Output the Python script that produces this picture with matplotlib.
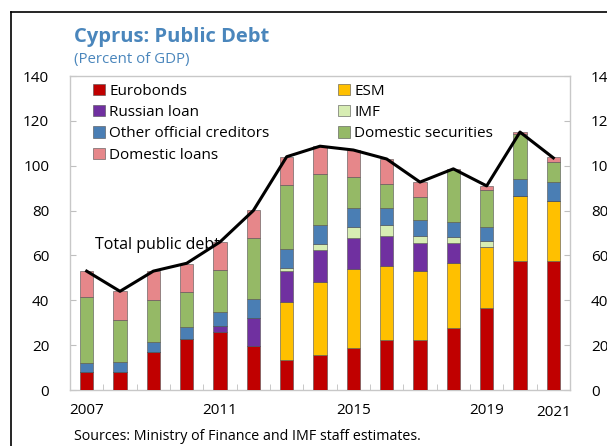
import matplotlib
matplotlib.use("Agg")
import matplotlib.pyplot as plt
from matplotlib.lines import Line2D
import numpy as np

plt.rcParams['font.family'] = ['Open Sans', 'DejaVu Sans']

years = [2007, 2008, 2009, 2010, 2011, 2012, 2013, 2014, 2015, 2016, 2017, 2018, 2019, 2020, 2021]
year_labels = ['2007', '2011', '2015', '2019', '2021']

# stacked components, percent of GDP (bottom to top)
eurobonds   = [8.0, 8.0, 16.8, 22.7, 26.0, 19.6, 13.5, 15.5, 18.7, 22.2, 22.2, 27.8, 36.4, 57.5, 57.5]
esm         = [0, 0, 0, 0, 0, 0, 25.6, 32.5, 35.1, 33.1, 30.9, 28.8, 27.2, 29.0, 26.8]
russian     = [0, 0, 0, 0, 2.7, 12.7, 14.0, 14.3, 14.1, 13.2, 12.4, 8.9, 0, 0, 0]
imf         = [0, 0, 0, 0, 0, 0, 1.2, 2.7, 4.9, 5.2, 3.2, 2.9, 2.8, 0, 0]
other_off   = [3.9, 4.3, 4.5, 5.4, 6.2, 8.3, 8.6, 8.6, 8.2, 7.3, 7.3, 6.6, 6.4, 7.5, 8.4]
dom_sec     = [29.6, 18.8, 18.7, 15.4, 18.8, 27.3, 28.5, 22.7, 14.0, 11.0, 10.0, 23.3, 16.5, 20.2, 8.8]
dom_loans   = [11.6, 13.0, 12.9, 12.8, 12.1, 12.2, 12.5, 12.4, 12.0, 11.0, 6.7, 0.3, 1.5, 1.0, 2.2]
total_debt  = [53.0, 44.0, 53.0, 56.5, 66.0, 80.0, 104.0, 108.7, 107.0, 103.0, 92.7, 98.6, 91.0, 115.0, 103.5]

series = [
    ("Eurobonds", eurobonds, '#C00000'),
    ("ESM", esm, '#FFC000'),
    ("Russian loan", russian, '#7030A0'),
    ("IMF", imf, '#D7EDB3'),
    ("Other official creditors", other_off, '#4A7EB4'),
    ("Domestic securities", dom_sec, '#95B966'),
    ("Domestic loans", dom_loans, '#E6878A'),
]

blue = '#4A86BC'

fig = plt.figure(figsize=(6.07, 4.46), dpi=100)
ax = fig.add_axes([70/607, 56/446, 500/607, 314/446])

x = np.arange(len(years))
bottom = np.zeros(len(years))
handles = {}
for name, vals, col in series:
    vals = np.array(vals, dtype=float)
    b = ax.bar(x, vals, 0.4, bottom=bottom, color=col, edgecolor='#505050',
               linewidth=0.4, zorder=3, label=name)
    handles[name] = b
    bottom = bottom + vals

ax.plot(x, total_debt, color='black', lw=2.2, zorder=4)
ax.text(0.25, 64.5, 'Total public debt', fontsize=11.5, va='center', ha='left', zorder=2)

ax.set_xlim(-0.5, 14.5)
ax.set_ylim(0, 140)
ax.set_yticks(range(0, 141, 20))
ax.tick_params(axis='y', direction='in', length=4, color='#BFBFBF', labelsize=11,
               left=True, right=True, labelleft=True, labelright=True, pad=15)
ax.set_xticks([years.index(int(y)) for y in year_labels])
ax.set_xticklabels(year_labels, fontsize=11)
ax.get_xticklabels()[-1].set_y(-0.007)
ax.set_xticks(np.arange(0.5, 14, 1), minor=True)
ax.tick_params(axis='x', which='major', length=0, pad=9)
ax.tick_params(axis='x', which='minor', direction='in', length=4, color='#BFBFBF')
for s in ax.spines.values():
    s.set_color('#C8C8C8')
    s.set_linewidth(1)

order = ["Eurobonds", "Russian loan", "Other official creditors", "Domestic loans",
         "ESM", "IMF", "Domestic securities"]
leg = ax.legend([handles[n] for n in order], order, ncol=2, loc='upper left',
                bbox_to_anchor=(0.025, 1.01), frameon=False, fontsize=11,
                handlelength=0.75, handleheight=0.75, handletextpad=0.3,
                labelspacing=0.42, columnspacing=4.5, borderaxespad=0.3)

fig.text(74/607, 1 - 37/446, 'Cyprus: Public Debt', fontsize=14.5, fontweight='bold',
         color=blue, va='center', ha='left')
fig.text(74/607, 1 - 59/446, '(Percent of GDP)', fontsize=10.8, color=blue,
         va='center', ha='left')
fig.text(74/607, 1 - 437/446, 'Sources: Ministry of Finance and IMF staff estimates.',
         fontsize=10.3, va='center', ha='left')

# outer border of the panel
fig.add_artist(Line2D([11/607, 11/607], [0, 1 - 12/446], color='black', lw=1.2,
                      transform=fig.transFigure))
fig.add_artist(Line2D([11/607, 1], [1 - 12/446, 1 - 12/446], color='black', lw=1.2,
                      transform=fig.transFigure))

fig.savefig('out.png', dpi=100)
